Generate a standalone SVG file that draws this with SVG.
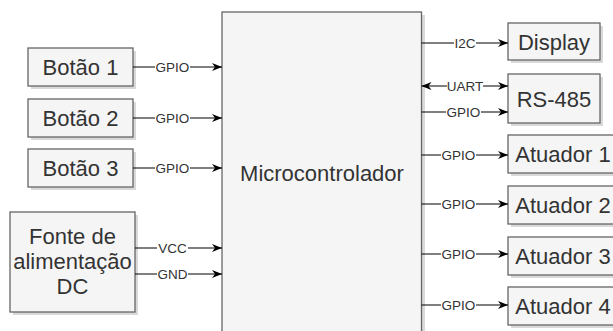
<svg xmlns="http://www.w3.org/2000/svg" width="613" height="331" viewBox="0 0 613 331">
<style>
.box{fill:#f5f5f5;stroke:#666666;stroke-width:1.3}
.sh{fill:#000000;opacity:0.15}
.t{font-family:"Liberation Sans",Arial,sans-serif;font-size:22px;fill:#333333;text-anchor:middle;dominant-baseline:central}
.el{font-family:"Liberation Sans",Arial,sans-serif;font-size:13.5px;fill:#333333;text-anchor:middle;dominant-baseline:central}
.ln{stroke:#000000;stroke-width:1.2;fill:none}
.lb{fill:#ffffff}
</style>
<defs>
<marker id="ah" viewBox="0 0 10 10" refX="10" refY="5" markerWidth="10" markerHeight="10" markerUnits="userSpaceOnUse" orient="auto-start-reverse">
<path d="M0,1 L10,5 L0,9 L3,5 Z" fill="#000000"/>
</marker>
</defs>
<rect width="613" height="331" fill="#ffffff"/>

<g id="microcontrolador">
<rect class="sh" x="225" y="15" width="200" height="330"/>
<rect class="box" x="222" y="12" width="199.5" height="330"/>
<text class="t" x="322" y="173">Microcontrolador</text>
</g>

<g id="botao1">
<rect class="sh" x="31" y="51" width="105" height="38"/>
<rect class="box" x="28" y="48" width="105" height="38"/>
<text class="t" x="80.5" y="67">Botão 1</text>
</g>
<g id="botao2">
<rect class="sh" x="31" y="102" width="105" height="38"/>
<rect class="box" x="28" y="99" width="105" height="38"/>
<text class="t" x="80.5" y="118">Botão 2</text>
</g>
<g id="botao3">
<rect class="sh" x="31" y="152" width="105" height="38"/>
<rect class="box" x="28" y="149" width="105" height="38"/>
<text class="t" x="80.5" y="168">Botão 3</text>
</g>
<g id="fonte">
<rect class="sh" x="13" y="215" width="125" height="100"/>
<rect class="box" x="10" y="212" width="125" height="100"/>
<text class="t" x="72.5" y="236">Fonte de</text>
<text class="t" x="72.5" y="261">alimentação</text>
<text class="t" x="72.5" y="286">DC</text>
</g>

<g id="display">
<rect class="sh" x="511" y="26" width="92" height="37"/>
<rect class="box" x="508" y="23" width="92" height="37"/>
<text class="t" x="554" y="42">Display</text>
</g>
<g id="rs485">
<rect class="sh" x="511" y="77" width="92" height="49"/>
<rect class="box" x="508" y="74" width="92" height="49"/>
<text class="t" x="554" y="99">RS-485</text>
</g>
<g id="atuador1">
<rect class="sh" x="511" y="138" width="110" height="38"/>
<rect class="box" x="508" y="135" width="110" height="38"/>
<text class="t" x="563" y="154">Atuador 1</text>
</g>
<g id="atuador2">
<rect class="sh" x="511" y="189" width="110" height="38"/>
<rect class="box" x="508" y="186" width="110" height="38"/>
<text class="t" x="563" y="205">Atuador 2</text>
</g>
<g id="atuador3">
<rect class="sh" x="511" y="240" width="110" height="38"/>
<rect class="box" x="508" y="237" width="110" height="38"/>
<text class="t" x="563" y="256">Atuador 3</text>
</g>
<g id="atuador4">
<rect class="sh" x="511" y="290" width="110" height="38"/>
<rect class="box" x="508" y="287" width="110" height="38"/>
<text class="t" x="563" y="306">Atuador 4</text>
</g>

<g id="connectors">
<line class="ln" x1="133" y1="67" x2="222" y2="67" marker-end="url(#ah)"/>
<rect class="lb" x="155" y="61" width="35" height="12"/>
<text class="el" x="172.5" y="67">GPIO</text>

<line class="ln" x1="133" y1="118" x2="222" y2="118" marker-end="url(#ah)"/>
<rect class="lb" x="155" y="112" width="35" height="12"/>
<text class="el" x="172.5" y="118">GPIO</text>

<line class="ln" x1="133" y1="168" x2="222" y2="168" marker-end="url(#ah)"/>
<rect class="lb" x="155" y="162" width="35" height="12"/>
<text class="el" x="172.5" y="168">GPIO</text>

<line class="ln" x1="135" y1="248" x2="222" y2="248" marker-end="url(#ah)"/>
<rect class="lb" x="157" y="242" width="31" height="12"/>
<text class="el" x="172.5" y="248">VCC</text>

<line class="ln" x1="135" y1="274" x2="222" y2="274" marker-end="url(#ah)"/>
<rect class="lb" x="157" y="268" width="31" height="12"/>
<text class="el" x="172.5" y="274">GND</text>

<line class="ln" x1="421.5" y1="43" x2="508" y2="43" marker-end="url(#ah)"/>
<rect class="lb" x="454" y="37" width="22" height="12"/>
<text class="el" x="465" y="43">I2C</text>

<line class="ln" x1="421.5" y1="86" x2="508" y2="86" marker-start="url(#ah)" marker-end="url(#ah)"/>
<rect class="lb" x="447" y="80" width="36" height="12"/>
<text class="el" x="465" y="86">UART</text>

<line class="ln" x1="421.5" y1="112" x2="508" y2="112" marker-end="url(#ah)"/>
<rect class="lb" x="446" y="106" width="35" height="12"/>
<text class="el" x="463.5" y="112">GPIO</text>

<line class="ln" x1="421.5" y1="155" x2="508" y2="155" marker-end="url(#ah)"/>
<rect class="lb" x="441" y="149" width="35" height="12"/>
<text class="el" x="458.5" y="155">GPIO</text>

<line class="ln" x1="421.5" y1="204" x2="508" y2="204" marker-end="url(#ah)"/>
<rect class="lb" x="441" y="198" width="35" height="12"/>
<text class="el" x="458.5" y="204">GPIO</text>

<line class="ln" x1="421.5" y1="254" x2="508" y2="254" marker-end="url(#ah)"/>
<rect class="lb" x="441" y="248" width="35" height="12"/>
<text class="el" x="458.5" y="254">GPIO</text>

<line class="ln" x1="421.5" y1="305" x2="508" y2="305" marker-end="url(#ah)"/>
<rect class="lb" x="441" y="299" width="35" height="12"/>
<text class="el" x="458.5" y="305">GPIO</text>
</g>
</svg>
